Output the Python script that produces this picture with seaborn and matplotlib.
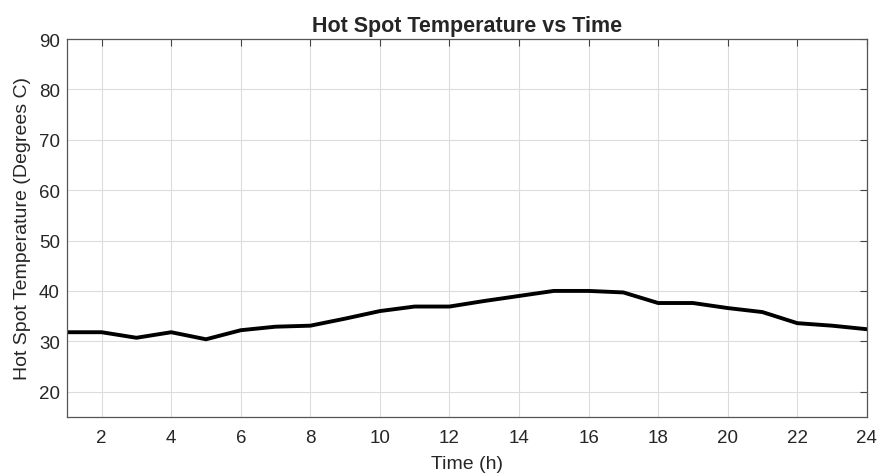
import matplotlib
matplotlib.use("Agg")
import matplotlib.pyplot as plt
import numpy as np
import pandas as pd
import seaborn as sns

# hourly hot spot temperature
hours = list(range(1, 25))
temps = [31.8, 31.8, 30.7, 31.8, 30.4, 32.2, 32.9, 33.1, 34.5, 36.0, 36.9, 36.9,
         38.0, 39.0, 40.0, 40.0, 39.7, 37.6, 37.6, 36.6, 35.8, 33.6, 33.1, 32.4]
yticks = [20, 30, 40, 50, 60, 70, 80, 90]
xticks = list(range(2, 25, 2))

df = pd.DataFrame({'Time (h)': hours, 'Temp': temps})

sns.set_style("whitegrid")
plt.rcParams['font.family'] = ['Liberation Sans', 'DejaVu Sans']

fig = plt.figure(figsize=(8.8, 4.77), dpi=100)
ax = fig.add_axes([0.076, 0.124, 0.909, 0.792])

sns.lineplot(data=df, x='Time (h)', y='Temp', color='black', linewidth=2.8, ax=ax)

ax.set_xlim(1, 24)
ax.set_ylim(15, 90)
ax.set_xticks(xticks)
ax.set_yticks(yticks)
ax.tick_params(axis='both', labelsize=13.5, direction='in', length=5, color='#444444',
               top=True, right=True, colors='#262626')
ax.tick_params(axis='x', pad=9)
ax.tick_params(axis='y', pad=5)
ax.grid(True, color='#dcdcdc', linewidth=0.8)
for s in ax.spines.values():
    s.set_color('#555555')
    s.set_linewidth(0.9)

ax.set_xlabel('Time (h)', fontsize=14, color='#262626', labelpad=6)
ax.set_ylabel('Hot Spot Temperature (Degrees C)', fontsize=14, color='#262626', labelpad=6)
ax.set_title('Hot Spot Temperature vs Time', fontsize=15.5, fontweight='bold', pad=6)

fig.savefig('out.png', dpi=100)
